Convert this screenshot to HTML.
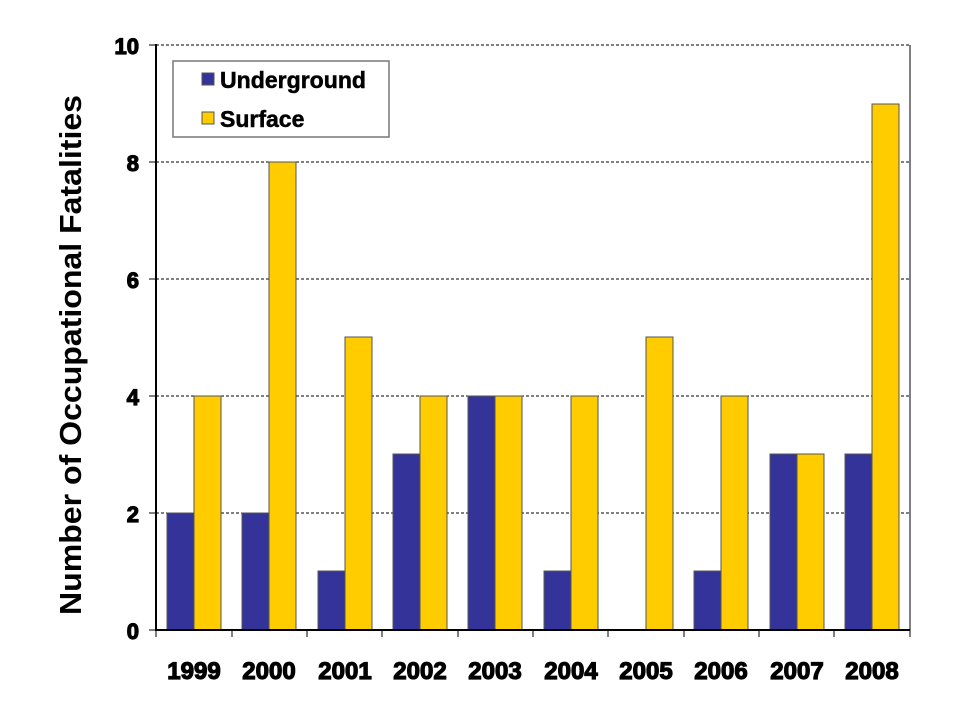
<!DOCTYPE html>
<html><head><meta charset="utf-8"><style>body{margin:0;background:#fff}</style></head><body>
<svg width="960" height="720" xmlns="http://www.w3.org/2000/svg" font-family="Liberation Sans, Arial, sans-serif" font-weight="bold">
<rect width="960" height="720" fill="#fff"/>
<g stroke="#000" stroke-width="1" stroke-dasharray="3,2">
<line x1="156" y1="45" x2="910" y2="45"/>
<line x1="156" y1="162" x2="910" y2="162"/>
<line x1="156" y1="279" x2="910" y2="279"/>
<line x1="156" y1="396" x2="910" y2="396"/>
<line x1="156" y1="513" x2="910" y2="513"/>
</g>
<line x1="910" y1="45" x2="910" y2="630" stroke="#000" stroke-width="1"/>
<g stroke="#555" stroke-width="1">
<rect x="167" y="513" width="27" height="117" fill="#333399"/><rect x="194" y="396" width="27" height="234" fill="#FFCC00"/>
<rect x="242" y="513" width="27" height="117" fill="#333399"/><rect x="269" y="162" width="27" height="468" fill="#FFCC00"/>
<rect x="318" y="571" width="27" height="59" fill="#333399"/><rect x="345" y="337" width="27" height="293" fill="#FFCC00"/>
<rect x="393" y="454" width="27" height="176" fill="#333399"/><rect x="420" y="396" width="27" height="234" fill="#FFCC00"/>
<rect x="468" y="396" width="27" height="234" fill="#333399"/><rect x="495" y="396" width="27" height="234" fill="#FFCC00"/>
<rect x="544" y="571" width="27" height="59" fill="#333399"/><rect x="571" y="396" width="27" height="234" fill="#FFCC00"/>
<rect x="646" y="337" width="27" height="293" fill="#FFCC00"/>
<rect x="694" y="571" width="27" height="59" fill="#333399"/><rect x="721" y="396" width="27" height="234" fill="#FFCC00"/>
<rect x="770" y="454" width="27" height="176" fill="#333399"/><rect x="797" y="454" width="27" height="176" fill="#FFCC00"/>
<rect x="845" y="454" width="27" height="176" fill="#333399"/><rect x="872" y="104" width="27" height="526" fill="#FFCC00"/>
</g>
<g stroke="#000" stroke-width="2">
<line x1="156" y1="44" x2="156" y2="630"/>
<line x1="155" y1="630" x2="910" y2="630"/>
</g>
<g stroke="#000" stroke-width="1">
<line x1="149" y1="45" x2="156" y2="45"/><line x1="149" y1="162" x2="156" y2="162"/><line x1="149" y1="279" x2="156" y2="279"/><line x1="149" y1="396" x2="156" y2="396"/><line x1="149" y1="513" x2="156" y2="513"/><line x1="149" y1="630" x2="156" y2="630"/>
<line x1="156" y1="630" x2="156" y2="637"/><line x1="232" y1="630" x2="232" y2="637"/><line x1="307" y1="630" x2="307" y2="637"/><line x1="382" y1="630" x2="382" y2="637"/><line x1="458" y1="630" x2="458" y2="637"/><line x1="533" y1="630" x2="533" y2="637"/><line x1="608" y1="630" x2="608" y2="637"/><line x1="684" y1="630" x2="684" y2="637"/><line x1="759" y1="630" x2="759" y2="637"/><line x1="834" y1="630" x2="834" y2="637"/><line x1="910" y1="630" x2="910" y2="637"/>
</g>
<g font-size="22" text-anchor="end" stroke="#000" stroke-width="1.2">
<text x="139" y="54">10</text><text x="139" y="171">8</text><text x="139" y="288">6</text><text x="139" y="405">4</text><text x="139" y="522">2</text><text x="139" y="639">0</text>
</g>
<g font-size="24" text-anchor="middle" stroke="#000" stroke-width="1.2">
<text x="194" y="679">1999</text><text x="269" y="679">2000</text><text x="345" y="679">2001</text><text x="420" y="679">2002</text><text x="495" y="679">2003</text><text x="571" y="679">2004</text><text x="646" y="679">2005</text><text x="721" y="679">2006</text><text x="797" y="679">2007</text><text x="872" y="679">2008</text>
</g>
<text transform="translate(81,355) rotate(-90)" font-size="31" text-anchor="middle" textLength="520" lengthAdjust="spacingAndGlyphs">Number of Occupational Fatalities</text>
<rect x="173" y="61" width="216" height="76" fill="#fff" stroke="#777" stroke-width="1.5"/>
<rect x="202" y="73" width="12" height="12" fill="#333399" stroke="#555"/>
<rect x="202" y="112" width="12" height="12" fill="#FFCC00" stroke="#555"/>
<g font-size="23" stroke="#000" stroke-width="0.5"><text x="220" y="88" textLength="146" lengthAdjust="spacingAndGlyphs">Underground</text><text x="220" y="127">Surface</text></g>
</svg>
</body></html>
